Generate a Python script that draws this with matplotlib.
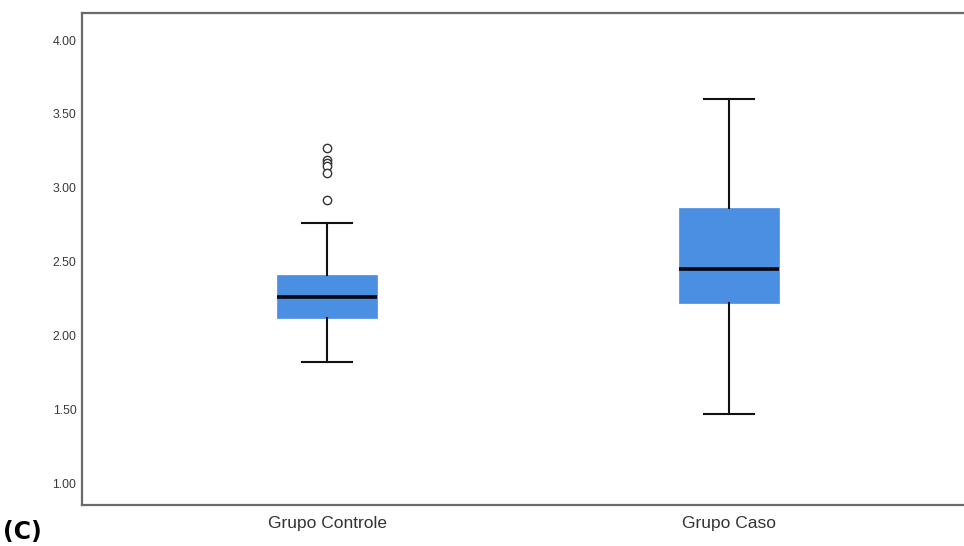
import matplotlib
matplotlib.use("Agg")
import matplotlib.pyplot as plt

# group labels and box summary values
groups = ["Grupo Controle", "Grupo Caso"]
whislo = [1.82, 1.47]
q1 = [2.12, 2.22]
med = [2.26, 2.45]
q3 = [2.41, 2.86]
whishi = [2.76, 3.60]
outliers = [[3.27, 3.19, 3.17, 3.15, 3.10, 2.92], []]

yticks = [1.0, 1.5, 2.0, 2.5, 3.0, 3.5, 4.0]

stats = []
for i in range(len(groups)):
    stats.append({
        "label": groups[i],
        "whislo": whislo[i], "q1": q1[i], "med": med[i],
        "q3": q3[i], "whishi": whishi[i], "fliers": outliers[i],
    })

plt.rcParams['font.family'] = ['Liberation Sans', 'DejaVu Sans']

fig = plt.figure(figsize=(9.64, 5.46), dpi=100)
ax = fig.add_axes([82/964, 41/546, 892/964, 492/546])

bp = ax.bxp(stats, positions=[1, 2], widths=0.25, patch_artist=True,
            showfliers=True)

for box in bp['boxes']:
    box.set(facecolor='#4a8fe2', edgecolor='#4a8fe2', linewidth=0.5)
for whisker in bp['whiskers']:
    whisker.set(color='#111111', linewidth=1.5)
for cap in bp['caps']:
    cap.set(color='#111111', linewidth=1.5)
for median in bp['medians']:
    median.set(color='#050510', linewidth=2.6)
for flier in bp['fliers']:
    flier.set(marker='o', markerfacecolor='white', markeredgecolor='#333333',
              markersize=6, markeredgewidth=1.0)

# caps a bit narrower than the box
for i, cap in enumerate(bp['caps']):
    c = 1 + i // 2
    cap.set_xdata([c - 0.062, c + 0.062])

ax.set_xlim(0.389, 2.611)
ax.set_ylim(0.853, 4.183)
ax.set_yticks(yticks)
ax.set_yticklabels(["%.2f" % v for v in yticks])
ax.set_xticks([1, 2])
ax.set_xticklabels(groups)

ax.tick_params(axis='y', length=0, pad=4, labelsize=8.8, labelcolor='#3a3a3a')
ax.tick_params(axis='x', length=0, pad=8, labelsize=12.5, labelcolor='#333333')

for side in ['left', 'top', 'bottom']:
    ax.spines[side].set_color('#6a6a6a')
    ax.spines[side].set_linewidth(1.6)
ax.spines['right'].set_visible(False)

fig.text(0.003, 0.004, "(C)", fontsize=17, fontweight='bold', va='bottom',
         family=['DejaVu Sans'], color='black')

fig.savefig("out.png", dpi=100)
